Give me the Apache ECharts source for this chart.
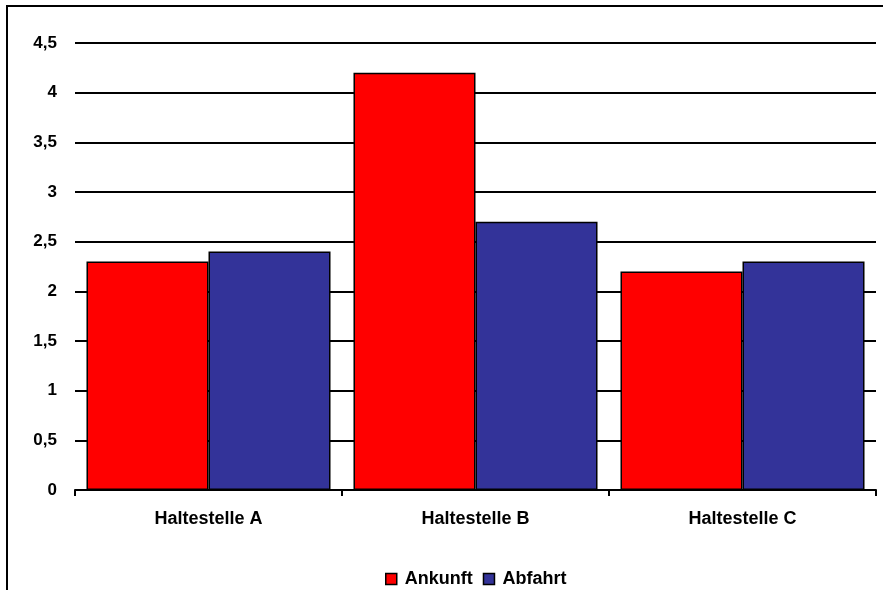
<!DOCTYPE html>
<html>
<head>
<meta charset="utf-8">
<script src="https://cdn.jsdelivr.net/npm/echarts@6/dist/echarts.min.js"></script>
<style>
  html, body { margin: 0; padding: 0; background: #fff; }
  #chart { width: 883px; height: 590px; }
</style>
</head>
<body>
<div id="chart"></div>
<script>
// Stops and the average waiting figures per stop
const categories = ['Haltestelle A', 'Haltestelle B', 'Haltestelle C'];
const seriesNames = ['Ankunft', 'Abfahrt'];
const ankunft = [2.3, 4.2, 2.2];
const abfahrt = [2.4, 2.7, 2.3];

const chart = echarts.init(document.getElementById('chart'));

const fmt = v => String(v).replace('.', ',');
const FONT = 'Liberation Sans';

chart.setOption({
  animation: false,
  backgroundColor: '#ffffff',
  graphic: [{
    type: 'rect',
    shape: { x: 7, y: 6, width: 2000, height: 2000 },
    style: { fill: 'none', stroke: '#000', lineWidth: 2 },
    silent: true,
    z: 100
  }],
  grid: { left: 75, right: 7, top: 43, bottom: 100, containLabel: false },
  legend: {
    top: 565,
    left: 380,
    itemWidth: 11,
    itemHeight: 11,
    itemGap: 10,
    icon: 'rect',
    itemStyle: { borderColor: '#000', borderWidth: 1.5 },
    textStyle: { fontFamily: FONT, fontWeight: 'bold', fontSize: 18, color: '#000', padding: [0, 0, 0, 3] },
    data: seriesNames
  },
  xAxis: {
    type: 'category',
    data: categories,
    axisLine: { lineStyle: { color: '#000', width: 2 } },
    axisTick: { show: true, length: 6, lineStyle: { color: '#000', width: 2 } },
    axisLabel: { fontFamily: FONT, fontWeight: 'bold', fontSize: 18, color: '#000', margin: 20 }
  },
  yAxis: {
    type: 'value',
    min: 0, max: 4.5, interval: 0.5,
    axisLine: { show: false },
    axisTick: { show: false },
    splitLine: { lineStyle: { color: '#000', width: 2 } },
    axisLabel: {
      fontFamily: FONT, fontWeight: 'bold', fontSize: 17, color: '#000', margin: 18,
      formatter: fmt
    }
  },
  series: [
    {
      name: seriesNames[0], type: 'bar', data: ankunft,
      barGap: '0%', barCategoryGap: '8.6%',
      itemStyle: { color: '#ff0000', borderColor: '#000', borderWidth: 1.5 }
    },
    {
      name: seriesNames[1], type: 'bar', data: abfahrt,
      barGap: '0%', barCategoryGap: '8.6%',
      itemStyle: { color: '#333399', borderColor: '#000', borderWidth: 1.5 }
    }
  ]
});
</script>
</body>
</html>
